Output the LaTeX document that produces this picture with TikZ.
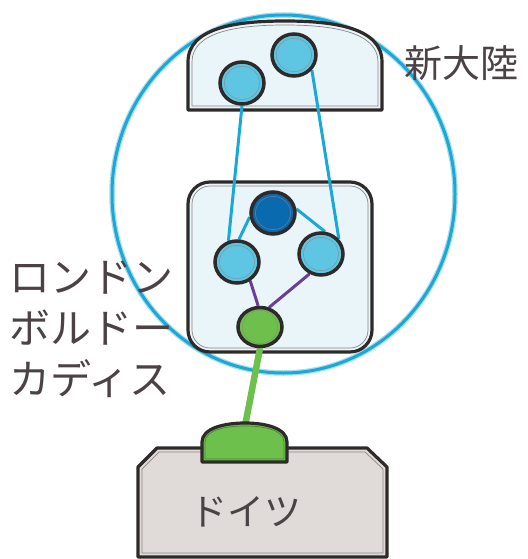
\documentclass[tikz,border=0pt]{standalone}
\usepackage{fontspec}
\newfontfamily\cjk{Noto Sans CJK JP}
\usetikzlibrary{shapes.geometric}
\definecolor{dk}{HTML}{2E2A2A}
\definecolor{ring}{HTML}{8A8585}
\definecolor{cyanline}{HTML}{1AA9D6}
\definecolor{halo}{HTML}{A8DDF0}
\definecolor{boxfill}{HTML}{EAF5FA}
\definecolor{bubfill}{HTML}{5EC6E2}
\definecolor{darkblue}{HTML}{0A6AB0}
\definecolor{grn}{HTML}{6CC04B}
\definecolor{purp}{HTML}{6A3D9A}
\definecolor{gerfill}{HTML}{E0DAD8}
\definecolor{txt}{HTML}{4A4244}
\pgfdeclarelayer{bg}
\pgfdeclarelayer{lines}
\pgfsetlayers{bg,lines,main}
\tikzset{
  bub/.style={ellipse, minimum width=44pt, minimum height=42pt, inner sep=0pt,
    draw=dk, line width=3.5pt, fill=#1,
    path picture={\draw[line width=0.7pt, draw=ring!60!#1] (path picture bounding box.center) ellipse [x radius=17.6pt, y radius=16.6pt];}},
  outerline/.style={draw=dk, line width=3.2pt, line join=round},
  innerline/.style={draw=ring, line width=0.7pt, line join=round},
  cyanl/.style={draw=cyanline, line width=3pt},
  purpl/.style={draw=purp, line width=3pt},
  lbl/.style={text=txt, font=\cjk\fontsize{38}{50}\selectfont, inner sep=0pt, align=left}
}
\begin{document}
\begin{tikzpicture}[x=1pt, y=-1pt]
\useasboundingbox (0,0) rectangle (527,559);
% bubbles
\node[bub=bubfill] (t1) at (242,83) {};
\node[bub=bubfill] (t2) at (294,55) {};
\node[bub=darkblue] (db) at (273,213) {};
\node[bub=bubfill] (lc) at (237,262) {};
\node[bub=bubfill] (rc) at (321,254) {};
\node[bub=grn, minimum height=39pt] (gc) at (260,327) {};
\coordinate (tabtop) at (245,426);
% background shapes
\begin{pgfonlayer}{bg}
  \draw[draw=halo, line width=5.5pt] (283.5,194) ellipse [x radius=171.5, y radius=179];
  \draw[cyanl] (283.5,194) ellipse [x radius=171.5, y radius=179];
  % top box
  \fill[boxfill] (188,110) -- (188,62) .. controls (188,28) and (235,21) .. (285,21) .. controls (335,21) and (382,28) .. (382,62) -- (382,110) -- cycle;
  \draw[innerline] (192,106) -- (192,62) .. controls (192,32) and (237,25) .. (285,25) .. controls (333,25) and (378,32) .. (378,62) -- (378,106) -- cycle;
  \draw[outerline] (188,110) -- (188,62) .. controls (188,28) and (235,21) .. (285,21) .. controls (335,21) and (382,28) .. (382,62) -- (382,110) -- cycle;
  % middle box
  \fill[boxfill, rounded corners=22pt] (188,182) rectangle (372,352);
  \draw[innerline, rounded corners=18pt] (192,186) rectangle (368,348);
  \draw[outerline, rounded corners=22pt] (188,182) rectangle (372,352);
  % germany box
  \fill[gerfill] (138,557) -- (138,467) -- (157,448) -- (367,448) -- (387,467) -- (387,557) -- cycle;
  \draw[innerline] (142,553) -- (142,469) -- (159,452) -- (365,452) -- (383,469) -- (383,553) -- cycle;
  \draw[outerline] (138,557) -- (138,467) -- (157,448) -- (367,448) -- (387,467) -- (387,557) -- cycle;
\end{pgfonlayer}
% connectors
\begin{pgfonlayer}{lines}
  \draw[cyanl] (t1.-90) -- (lc.112);
  \draw[cyanl] (t2.-40) -- (rc.40);
  \draw[cyanl] (db.190) -- (lc.85);
  \draw[cyanl] (db.10) -- (rc.80);
  \draw[purpl] (lc.-55) -- (gc.95);
  \draw[purpl] (rc.-120) -- (gc.65);
  \draw[draw=grn, line width=6.5pt] (gc.-90) -- (tabtop);
\end{pgfonlayer}
% green tab
\fill[grn] (202,462) -- (202,442) .. controls (202,428) and (225,423) .. (245,423) .. controls (265,423) and (287,428) .. (287,442) -- (287,462) -- cycle;
\draw[draw=grn!70!black, line width=0.7pt] (205,459) -- (205,442) .. controls (205,430) and (226,426) .. (245,426) .. controls (264,426) and (284,430) .. (284,442) -- (284,459) -- cycle;
\draw[outerline] (202,462) -- (202,442) .. controls (202,428) and (225,423) .. (245,423) .. controls (265,423) and (287,428) .. (287,442) -- (287,462) -- cycle;
% labels
\node[lbl] (nw) at (461,63) {新大陸};
\node[lbl, anchor=west, font=\cjk\fontsize{41}{51}\selectfont] (cities) at (9,329) {ロンドン\\ボルドー\\カディス};
\node[lbl, font=\cjk\fontsize{37}{44}\selectfont] (de) at (246,512) {ドイツ};
\end{tikzpicture}
\end{document}
